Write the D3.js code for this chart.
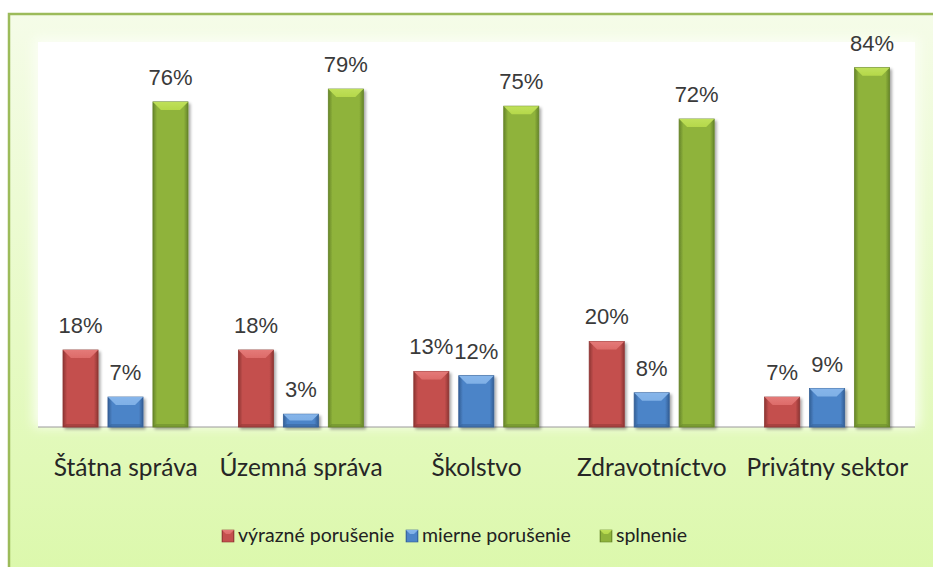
<!DOCTYPE html>
<html><head><meta charset="utf-8">
<script src="https://cdn.jsdelivr.net/npm/d3@7"></script>
<style>html,body{margin:0;padding:0;background:#fff;}svg{display:block;}</style>
</head><body>
<script>
const categories = ["Štátna správa", "Územná správa", "Školstvo", "Zdravotníctvo", "Privátny sektor"];
const seriesNames = ["výrazné porušenie", "mierne porušenie", "splnenie"];
const vyrazne = [18, 18, 13, 20, 7];
const mierne = [7, 3, 12, 8, 9];
const splnenie = [76, 79, 75, 72, 84];
const seriesValues = [vyrazne, mierne, splnenie];
const yDomainMax = 90;

const W = 933, H = 567;
const plot = {x0: 38, x1: 915, y0: 42, y1: 427};
const palette = [
  {base: "#c4504e", light: "#e47a78", dark: "#8e3533", bevel: "#dd6b69"},
  {base: "#4c84c8", light: "#86b5ea", dark: "#335f96", bevel: "#7fb0e6"},
  {base: "#8fb33b", light: "#bfe05a", dark: "#66852a", bevel: "#b5d84a"}
];

const svg = d3.select("body").append("svg").attr("width", W).attr("height", H);
const defs = svg.append("defs");

const bg = defs.append("linearGradient").attr("id", "bg").attr("x1", 0).attr("y1", 0).attr("x2", 0).attr("y2", 1);
bg.append("stop").attr("offset", "0%").attr("stop-color", "#f5fce8");
bg.append("stop").attr("offset", "35%").attr("stop-color", "#ecfbd2");
bg.append("stop").attr("offset", "100%").attr("stop-color", "#dbf8aa");

const blur = defs.append("filter").attr("id", "glow").attr("x", "-10%").attr("y", "-10%").attr("width", "120%").attr("height", "120%");
blur.append("feGaussianBlur").attr("stdDeviation", 6);

const shadow = defs.append("filter").attr("id", "shadow").attr("x", "-20%").attr("y", "-20%").attr("width", "150%").attr("height", "150%");
shadow.append("feGaussianBlur").attr("in", "SourceAlpha").attr("stdDeviation", 1.5).attr("result", "b");
shadow.append("feOffset").attr("in", "b").attr("dx", 1.5).attr("dy", 1.5).attr("result", "o");
shadow.append("feComponentTransfer").attr("in", "o").attr("result", "o2")
  .append("feFuncA").attr("type", "linear").attr("slope", 0.35);
const fm = shadow.append("feMerge");
fm.append("feMergeNode").attr("in", "o2");
fm.append("feMergeNode").attr("in", "SourceGraphic");

palette.forEach((p, i) => {
  const g = defs.append("linearGradient").attr("id", "bar" + i).attr("x1", 0).attr("x2", 1).attr("y1", 0).attr("y2", 0);
  g.append("stop").attr("offset", "0%").attr("stop-color", p.dark);
  g.append("stop").attr("offset", "12%").attr("stop-color", p.base);
  g.append("stop").attr("offset", "50%").attr("stop-color", p.base);
  g.append("stop").attr("offset", "88%").attr("stop-color", p.base);
  g.append("stop").attr("offset", "100%").attr("stop-color", p.dark);
  const t = defs.append("linearGradient").attr("id", "bev" + i).attr("x1", 0).attr("x2", 0).attr("y1", 0).attr("y2", 1);
  t.append("stop").attr("offset", "0%").attr("stop-color", p.light);
  t.append("stop").attr("offset", "100%").attr("stop-color", p.bevel);
});

// background frame
svg.append("rect").attr("x", 9).attr("y", 14).attr("width", W + 10).attr("height", H + 10)
  .attr("fill", "url(#bg)").attr("stroke", "#9cbb5a").attr("stroke-width", 2.5);

// plot area white with soft glow
svg.append("rect").attr("x", plot.x0 - 4).attr("y", plot.y0 - 4)
  .attr("width", plot.x1 - plot.x0 + 8).attr("height", plot.y1 - plot.y0 + 4)
  .attr("fill", "#fbfef5").attr("filter", "url(#glow)");
svg.append("rect").attr("x", plot.x0).attr("y", plot.y0)
  .attr("width", plot.x1 - plot.x0).attr("height", plot.y1 - plot.y0).attr("fill", "#ffffff");

const x0 = d3.scaleBand().domain(categories).range([plot.x0, plot.x1]).paddingInner(0).paddingOuter(0);
const x1 = d3.scaleBand().domain(d3.range(seriesNames.length)).range([25, 150]).paddingInner(0.22).paddingOuter(0);
const y = d3.scaleLinear().domain([0, yDomainMax]).range([plot.y1, plot.y0]);

// baseline axis
svg.append("line").attr("x1", plot.x0).attr("x2", plot.x1).attr("y1", y(0)).attr("y2", y(0))
  .attr("stroke", "#9a9a9a").attr("stroke-width", 1);

const bars = [];
categories.forEach((c, ci) => {
  seriesValues.forEach((vals, si) => {
    bars.push({c, si, v: vals[ci]});
  });
});

const bw = x1.bandwidth();
const gBars = svg.append("g");
bars.forEach(d => {
  const bx = x0(d.c) + x1(d.si);
  const by = y(d.v);
  const bh = y(0) - by;
  const g = gBars.append("g").attr("filter", "url(#shadow)");
  g.append("rect").attr("x", bx).attr("y", by).attr("width", bw).attr("height", bh)
    .attr("fill", "url(#bar" + d.si + ")").attr("stroke", palette[d.si].dark).attr("stroke-width", 0.8);
  const b = Math.min(8, bh / 2);
  g.append("polygon")
    .attr("points", [[bx, by], [bx + bw, by], [bx + bw - b, by + b], [bx + b, by + b]].map(p => p.join(",")).join(" "))
    .attr("fill", "url(#bev" + d.si + ")");
  g.append("polygon")
    .attr("points", [[bx, by + bh], [bx + bw, by + bh], [bx + bw - 3, by + bh - 3], [bx + 3, by + bh - 3]].map(p => p.join(",")).join(" "))
    .attr("fill", palette[d.si].dark).attr("opacity", 0.5);
  svg.append("text").attr("x", bx + bw / 2).attr("y", by - 17)
    .attr("text-anchor", "middle")
    .attr("font-family", "'Liberation Sans', Arial, sans-serif").attr("font-size", 22)
    .attr("fill", "#3a3a3a").text(d.v + "%");
});

// category labels
svg.append("g").selectAll("text").data(categories).join("text")
  .attr("x", d => x0(d) + x0.bandwidth() / 2)
  .attr("y", 476)
  .attr("text-anchor", "middle")
  .attr("font-family", "Lato, 'Open Sans', sans-serif").attr("font-size", 24.5)
  .attr("fill", "#262626").text(d => d);

// legend
const lg = svg.append("g");
const legendStarts = [222, 406, 600];
const ly = 530, ms = 12;
seriesNames.forEach((n, i) => {
  const lx = legendStarts[i];
  lg.append("rect").attr("x", lx).attr("y", ly).attr("width", ms).attr("height", ms)
    .attr("fill", "url(#bar" + i + ")").attr("stroke", palette[i].dark).attr("stroke-width", 0.6);
  lg.append("polygon")
    .attr("points", [[lx, ly], [lx + ms, ly], [lx + ms - 4, ly + 4], [lx + 4, ly + 4]].map(p => p.join(",")).join(" "))
    .attr("fill", "url(#bev" + i + ")");
  lg.append("text").attr("x", lx + ms + 4).attr("y", 542)
    .attr("font-family", "Lato, 'Open Sans', sans-serif").attr("font-size", 19.5)
    .attr("fill", "#222").text(n);
});
</script>
</body></html>
